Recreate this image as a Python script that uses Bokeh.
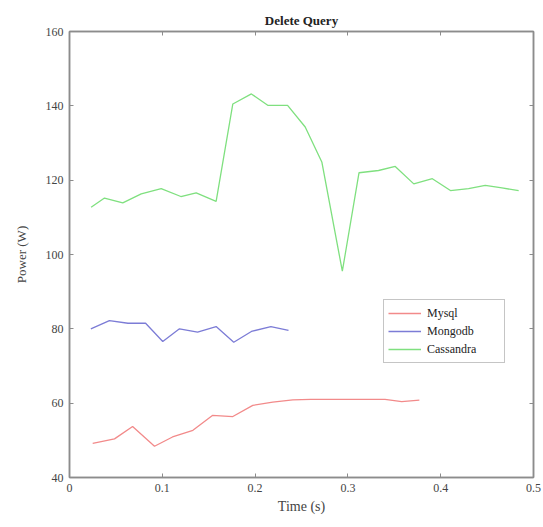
from bokeh.plotting import figure
from bokeh.models import Range1d, LinearAxis, Legend, LegendItem, FixedTicker
from bokeh.embed import file_html
from bokeh.resources import INLINE

# Data
mysql_t = [0.025, 0.0485, 0.068, 0.0916, 0.111, 0.133, 0.154, 0.176, 0.1975, 0.219, 0.2406,
           0.26, 0.28, 0.30, 0.32, 0.34, 0.358, 0.377]
mysql_p = [49.2, 50.4, 53.7, 48.4, 50.9, 52.7, 56.7, 56.4, 59.4, 60.3, 60.9,
           61.0, 61.0, 61.0, 61.0, 61.0, 60.4, 60.8]

mongo_t = [0.023, 0.043, 0.063, 0.082, 0.1005, 0.1185, 0.138, 0.158, 0.177, 0.196, 0.217, 0.236]
mongo_p = [80.0, 82.2, 81.5, 81.5, 76.6, 80.0, 79.1, 80.6, 76.4, 79.3, 80.6, 79.6]

cass_t = [0.0233, 0.0377, 0.0574, 0.0773, 0.0988, 0.120, 0.1365, 0.158, 0.176, 0.196, 0.214,
          0.235, 0.254, 0.272, 0.294, 0.312, 0.333, 0.351, 0.371, 0.391, 0.4105, 0.43,
          0.448, 0.466, 0.484]
cass_p = [112.7, 115.2, 113.9, 116.3, 117.7, 115.6, 116.6, 114.3, 140.5, 143.2, 140.1,
          140.1, 134.3, 124.8, 95.5, 122.0, 122.6, 123.7, 119.0, 120.4, 117.2, 117.7,
          118.6, 117.9, 117.2]

x_ticks = [0, 0.1, 0.2, 0.3, 0.4, 0.5]
y_ticks = [40, 60, 80, 100, 120, 140, 160]

SERIF = "Liberation Serif"
AXIS_COL = "#8c8c8c"
LABEL_COL = "#444444"

p = figure(width=543, height=527, output_backend="svg", toolbar_location=None,
           x_range=Range1d(0, 0.5), y_range=Range1d(40, 160),
           min_border_left=69, min_border_right=10, min_border_top=31, min_border_bottom=50,
           title="Delete Query")
p.title.align = "center"
p.title.text_font = SERIF
p.title.text_font_size = "13px"
p.title.text_font_style = "bold"
p.title.text_color = "#222222"
p.title.offset = 0
p.title.standoff = 8

p.xgrid.visible = False
p.ygrid.visible = False
p.outline_line_color = AXIS_COL
p.outline_line_width = 1.5
p.background_fill_color = "white"
p.border_fill_color = "white"

def style_axis(ax, ticks, show_labels=True):
    ax.ticker = FixedTicker(ticks=ticks)
    ax.minor_tick_line_color = None
    ax.major_tick_in = 4
    ax.major_tick_out = 0
    ax.major_tick_line_color = AXIS_COL
    ax.axis_line_color = AXIS_COL
    ax.axis_line_width = 1.5
    ax.major_label_text_font = SERIF
    ax.major_label_text_font_size = "12px"
    ax.major_label_text_color = LABEL_COL
    if show_labels:
        ax.major_label_standoff = 6
    else:
        ax.major_label_standoff = 0
        ax.major_label_overrides = {t: "" for t in ticks}

style_axis(p.xaxis[0], x_ticks)
style_axis(p.yaxis[0], y_ticks)
p.xaxis[0].axis_label = "Time (s)"
p.xaxis[0].axis_label_text_font = SERIF
p.xaxis[0].axis_label_text_font_size = "14px"
p.xaxis[0].axis_label_text_font_style = "normal"
p.xaxis[0].axis_label_text_color = LABEL_COL
p.xaxis[0].axis_label_standoff = 4
p.yaxis[0].axis_label = "Power (W)"
p.yaxis[0].axis_label_text_font = SERIF
p.yaxis[0].axis_label_text_font_size = "13px"
p.yaxis[0].axis_label_text_font_style = "normal"
p.yaxis[0].axis_label_text_color = LABEL_COL
p.yaxis[0].axis_label_standoff = 14
p.xaxis[0].formatter.use_scientific = False

ax_top = LinearAxis()
style_axis(ax_top, x_ticks, show_labels=False)
p.add_layout(ax_top, "above")
ax_right = LinearAxis()
style_axis(ax_right, y_ticks, show_labels=False)
p.add_layout(ax_right, "right")

r1 = p.line(mysql_t, mysql_p, line_color="#f28a8a", line_width=1.3)
r2 = p.line(mongo_t, mongo_p, line_color="#7c7cd6", line_width=1.3)
r3 = p.line(cass_t, cass_p, line_color="#7fe07f", line_width=1.3)

legend = Legend(items=[LegendItem(label="Mysql", renderers=[r1]),
                       LegendItem(label="Mongodb", renderers=[r2]),
                       LegendItem(label="Cassandra", renderers=[r3])],
                location=(314, 114))
legend.label_text_font = SERIF
legend.label_text_font_size = "12px"
legend.label_text_color = "#222222"
legend.glyph_width = 33
legend.glyph_height = 18
legend.label_height = 18
legend.label_width = 73
legend.label_standoff = 6
legend.spacing = 0
legend.padding = 4
legend.margin = 0
legend.border_line_color = AXIS_COL
legend.border_line_width = 1.5
legend.background_fill_alpha = 1
p.add_layout(legend, "center")

open("out.html", "w").write(file_html(p, INLINE))
